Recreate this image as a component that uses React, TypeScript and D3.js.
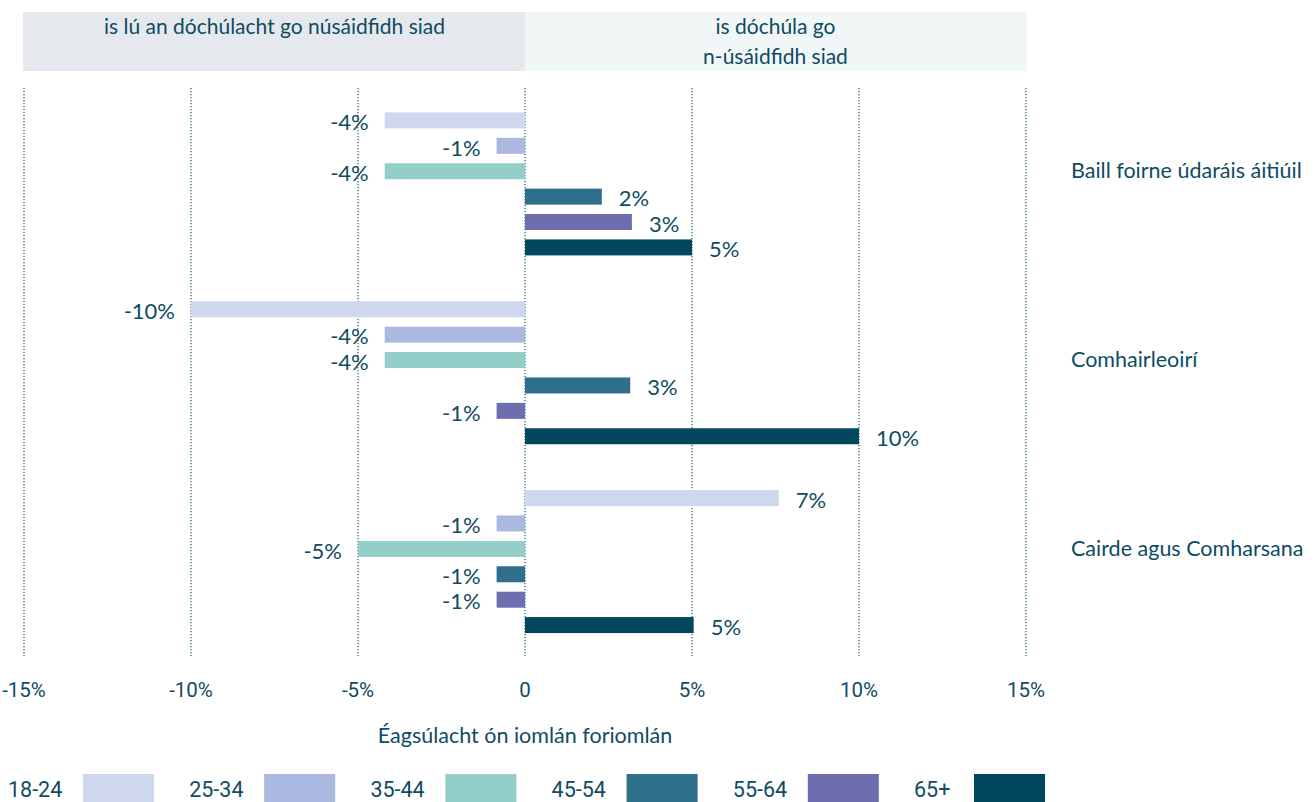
import React from 'react';
import * as d3 from 'd3';

// categories (rows) and age bands (series)
const categories = ['Baill foirne údaráis áitiúil', 'Comhairleoirí', 'Cairde agus Comharsana'];
const ageBands = ['18-24', '25-34', '35-44', '45-54', '55-64', '65+'];

// difference from overall total, % (one array per category, ordered like ageBands)
const bailFoirne = [-4.2, -0.85, -4.2, 2.3, 3.2, 5.0];
const comhairleoiri = [-10.0, -4.2, -4.2, 3.15, -0.85, 10.0];
const cairde = [7.6, -0.85, -5.0, -0.85, -0.85, 5.05];

// value labels as printed on the chart
const bailFoirneLabels = ['-4%', '-1%', '-4%', '2%', '3%', '5%'];
const comhairleoiriLabels = ['-10%', '-4%', '-4%', '3%', '-1%', '10%'];
const cairdeLabels = ['7%', '-1%', '-5%', '-1%', '-1%', '5%'];

const xTicks = [-15, -10, -5, 0, 5, 10, 15];
const xTickLabels = ['-15%', '-10%', '-5%', '0', '5%', '10%', '15%'];

const headerLeft = ['is lú an dóchúlacht go núsáidfidh siad'];
const headerRight = ['is dóchúla go', 'n-úsáidfidh siad'];
const axisTitle = 'Éagsúlacht ón iomlán foriomlán';

const colors = ['#cfd7ef', '#abb9e1', '#93cfc8', '#2e6f8c', '#6d6daf', '#01485f'];

const TEXT = '#0f4b62';
const GRID = '#1f5a70';
const MAIN_FONT = 'Lato, "Open Sans", sans-serif';
const NUM_FONT = 'Roboto, "Noto Sans", sans-serif';

const W = 1316;
const H = 802;

export default function App() {
  const values = [bailFoirne, comhairleoiri, cairde];
  const labels = [bailFoirneLabels, comhairleoiriLabels, cairdeLabels];

  const x = d3.scaleLinear().domain([-15, 15]).range([24, 1026]);

  const yGroup = d3.scaleBand<string>().domain(categories).range([89.5, 656]);
  const yInner = d3
    .scaleBand<string>()
    .domain(ageBands)
    .range([-76.2, 76.2])
    .paddingInner(0.37)
    .paddingOuter(0.185);

  const color = d3.scaleOrdinal<string, string>().domain(ageBands).range(colors);

  const gridTop = 88;
  const gridBottom = 656;

  // legend layout
  const legendStep = 181.2;
  const legendTextWidth = (s: string) => (s.length === 3 ? 40 : 55);

  return (
    <svg width={W} height={H} style={{ position: 'absolute', left: 0, top: 0, background: '#fff' }}>
      {/* header panels */}
      <rect x={x(-15) - 1} y={12} width={x(0) - x(-15) + 1} height={59} fill="#e5e9ee" />
      <rect x={x(0)} y={12} width={x(15) - x(0) + 1} height={59} fill="#f1f7f7" />
      {headerLeft.map((t, i) => (
        <text
          key={t}
          x={(x(-15) + x(0)) / 2}
          y={34 + i * 30}
          textAnchor="middle"
          fill={TEXT}
          fontFamily={MAIN_FONT}
          fontSize={21}
        >
          {t}
        </text>
      ))}
      {headerRight.map((t, i) => (
        <text
          key={t}
          x={(x(0) + x(15)) / 2}
          y={34 + i * 30}
          textAnchor="middle"
          fill={TEXT}
          fontFamily={MAIN_FONT}
          fontSize={21}
        >
          {t}
        </text>
      ))}

      {/* dotted grid lines */}
      {xTicks.map((t) => (
        <line
          key={t}
          x1={x(t)}
          x2={x(t)}
          y1={gridTop}
          y2={gridBottom}
          stroke={GRID}
          strokeWidth={1.2}
          strokeDasharray="1.2,1.8"
        />
      ))}

      {/* bars */}
      {categories.map((cat, gi) => {
        const cy = (yGroup(cat) || 0) + yGroup.bandwidth() / 2;
        return (
          <g key={cat}>
            {ageBands.map((band, si) => {
              const v = values[gi][si];
              const y0 = cy + (yInner(band) || 0);
              const bh = yInner.bandwidth();
              const x0 = Math.min(x(0), x(v));
              const w = Math.abs(x(v) - x(0));
              const neg = v < 0;
              return (
                <g key={band}>
                  <rect x={x0} y={y0} width={w} height={bh} fill={color(band)} />
                  <text
                    x={neg ? x(v) - 16 : x(v) + 17}
                    y={y0 + bh / 2 + 2}
                    dy="0.35em"
                    textAnchor={neg ? 'end' : 'start'}
                    fill={TEXT}
                    fontFamily={MAIN_FONT}
                    fontSize={22}
                  >
                    {labels[gi][si]}
                  </text>
                </g>
              );
            })}
            <text
              x={1071}
              y={cy - 13}
              dy="0.35em"
              fill={TEXT}
              fontFamily={MAIN_FONT}
              fontSize={21.5}
            >
              {cat}
            </text>
          </g>
        );
      })}

      {/* x tick labels */}
      {xTicks.map((t, i) => (
        <text
          key={t}
          x={x(t)}
          y={690}
          dy="0.35em"
          textAnchor="middle"
          fill={TEXT}
          fontFamily={NUM_FONT}
          fontSize={20.5}
        >
          {xTickLabels[i]}
        </text>
      ))}

      <text
        x={x(0)}
        y={735}
        dy="0.35em"
        textAnchor="middle"
        fill={TEXT}
        fontFamily={MAIN_FONT}
        fontSize={21.5}
      >
        {axisTitle}
      </text>

      {/* legend */}
      {ageBands.map((band, i) => {
        const tx = 8 + i * legendStep;
        const sx = tx + legendTextWidth(band) + 20;
        return (
          <g key={band}>
            <text
              x={tx}
              y={789}
              dy="0.35em"
              fill={TEXT}
              fontFamily={NUM_FONT}
              fontSize={21.5}
            >
              {band}
            </text>
            <rect x={sx} y={774} width={71} height={30} fill={color(band)} />
          </g>
        );
      })}
    </svg>
  );
}
